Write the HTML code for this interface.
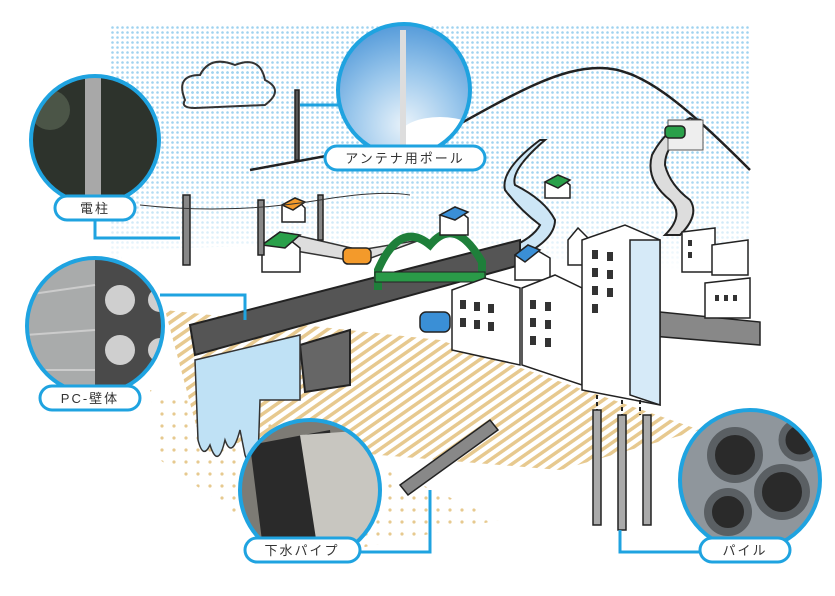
<!DOCTYPE html>
<html><head><meta charset="utf-8"><style>
html,body{margin:0;padding:0;background:#fff;width:835px;height:596px;overflow:hidden}
svg{display:block}
text{font-family:"Liberation Sans","Noto Sans CJK JP",sans-serif;font-size:13px;fill:#333;letter-spacing:2px}
</style></head><body>
<svg width="835" height="596" viewBox="0 0 835 596" xmlns="http://www.w3.org/2000/svg">
<defs>
<pattern id="dots" width="5" height="5" patternUnits="userSpaceOnUse"><circle cx="2.5" cy="2.5" r="1.3" fill="#9fd3f0"/></pattern>
<pattern id="stripe" width="8" height="8" patternUnits="userSpaceOnUse" patternTransform="rotate(-35)"><rect width="8" height="3.5" fill="#e7c98f"/></pattern>
<pattern id="dotsb" width="12" height="12" patternUnits="userSpaceOnUse"><circle cx="6" cy="6" r="1.6" fill="#e7c98f"/></pattern>
<radialGradient id="sky" cx="0.5" cy="0.7" r="0.7"><stop offset="0" stop-color="#e8f2fa"/><stop offset="0.5" stop-color="#9cc8ec"/><stop offset="1" stop-color="#4f97d8"/></radialGradient>
<linearGradient id="fade" x1="0" y1="0" x2="0" y2="1"><stop offset="0" stop-color="#fff" stop-opacity="0"/><stop offset="1" stop-color="#fff" stop-opacity="1"/></linearGradient>
<clipPath id="c1"><circle cx="95" cy="140" r="64"/></clipPath>
<clipPath id="c2"><circle cx="404" cy="90" r="66"/></clipPath>
<clipPath id="c3"><circle cx="95" cy="326" r="68"/></clipPath>
<clipPath id="c4"><circle cx="310" cy="490" r="70"/></clipPath>
<clipPath id="c5"><circle cx="750" cy="480" r="70"/></clipPath>
</defs>
<!-- sky -->
<rect x="110" y="25" width="640" height="245" fill="url(#dots)"/>
<rect x="110" y="170" width="640" height="100" fill="url(#fade)"/>
<!-- mountain -->
<path d="M250 170 L440 135 C520 90 560 68 600 68 C640 68 680 100 750 170" fill="none" stroke="#222" stroke-width="2.5"/>
<!-- cloud -->
<path d="M185 100 Q175 75 200 75 Q210 55 235 65 Q260 55 265 80 Q285 90 265 105 L195 108 Q180 108 185 100Z" fill="url(#dots)" stroke="#333" stroke-width="2"/>
<!-- white ground plane -->
<path d="M120 250 L450 240 L760 300 L760 440 L160 440Z" fill="#fff"/>
<!-- underground -->
<path d="M165 310 L440 340 L700 430 L560 470 L200 440Z" fill="url(#stripe)"/>
<path d="M150 390 L300 430 L500 520 L300 560 L160 460Z" fill="url(#dotsb)"/>
<!-- river -->
<path d="M540 140 Q500 170 505 190 Q520 210 540 225 Q530 245 470 262 L500 265 Q555 245 555 220 Q545 200 515 185 Q510 170 545 140Z" fill="#cde6f6" stroke="#222" stroke-width="2"/>
<!-- road to mountain -->
<path d="M695 120 Q705 118 700 125 Q665 140 665 165 Q670 185 690 200 Q700 215 680 235 L665 235 Q685 215 670 200 Q645 180 652 155 Q665 130 690 118Z" fill="#ddd" stroke="#222" stroke-width="2"/>
<rect x="668" y="120" width="35" height="30" fill="#eee" stroke="#555" stroke-width="1"/>
<rect x="665" y="126" width="20" height="12" rx="4" fill="#2aa04a" stroke="#222" stroke-width="1.5"/>
<path d="M295 235 L360 250 L420 240 L360 262 L290 250Z" fill="#ddd" stroke="#333" stroke-width="1.5"/>
<!-- wall -->
<path d="M190 325 L520 240 L520 265 L195 355Z" fill="#555" stroke="#222" stroke-width="2"/>
<path d="M300 345 L350 330 L350 385 L305 392Z" fill="#666" stroke="#222" stroke-width="2"/>
<!-- water -->
<path d="M195 360 L300 335 L300 400 L260 400 L258 460 Q250 470 245 455 L240 430 Q232 460 225 440 Q218 470 210 445 Q203 460 198 440Z" fill="#bfe1f5" stroke="#333" stroke-width="1.5"/>
<!-- bridge -->
<path d="M378 290 L378 270 Q400 220 430 245 Q455 215 482 262 L482 285" fill="none" stroke="#1e7f3a" stroke-width="8"/>
<rect x="375" y="272" width="110" height="10" fill="#2a9a48" stroke="#222" stroke-width="1"/>
<!-- houses -->
<g stroke="#222" stroke-width="1.5">
<path d="M262 245 L280 232 L300 248 L300 272 L262 272Z" fill="#fff"/><path d="M262 245 L280 232 L300 235 L285 248Z" fill="#2aa04a"/>
<path d="M440 215 L455 207 L468 218 L468 235 L440 235Z" fill="#fff"/><path d="M440 215 L455 207 L468 212 L455 220Z" fill="#3a8fd6"/>
<path d="M545 182 L558 175 L570 185 L570 198 L545 198Z" fill="#fff"/><path d="M545 182 L558 175 L570 180 L558 188Z" fill="#2aa04a"/>
<path d="M282 205 L295 198 L305 208 L305 222 L282 222Z" fill="#fff"/><path d="M282 205 L295 198 L305 202 L293 210Z" fill="#f39a2b"/>
<path d="M515 255 L528 245 L550 258 L550 280 L515 280Z" fill="#fff"/><path d="M515 255 L528 245 L540 250 L525 262Z" fill="#3a8fd6"/>
<path d="M568 240 L578 228 L590 240 L590 265 L568 265Z" fill="#fff"/>
<!-- cars -->
<rect x="343" y="248" width="28" height="16" rx="5" fill="#f39a2b"/>
<rect x="420" y="312" width="30" height="20" rx="6" fill="#3a8fd6"/>
<!-- buildings -->
<path d="M640 310 L760 322 L760 345 L640 335Z" fill="#888"/>
<path d="M682 232 L715 228 L715 272 L682 272Z" fill="#fff"/>
<path d="M712 245 L748 240 L748 275 L712 275Z" fill="#fff"/>
<path d="M705 283 L750 278 L750 318 L705 318Z" fill="#fff"/>
<path d="M452 290 L485 278 L520 288 L520 365 L452 350Z" fill="#fff"/>
<path d="M522 288 L555 275 L582 288 L582 385 L522 365Z" fill="#fff"/>
<path d="M582 240 L625 225 L660 240 L660 405 L582 390Z" fill="#fff"/>
<path d="M630 240 L660 240 L660 405 L630 395Z" fill="#d6eaf8"/>
<!-- piles -->
<rect x="593" y="410" width="8" height="115" fill="#aaa"/>
<rect x="618" y="415" width="8" height="115" fill="#aaa"/>
<rect x="643" y="415" width="8" height="110" fill="#aaa"/>
<!-- sewer pipe -->
<path d="M400 485 L490 420 L498 430 L408 495Z" fill="#888"/>
<!-- poles -->
<rect x="183" y="195" width="7" height="70" fill="#888"/>
<rect x="258" y="200" width="6" height="55" fill="#888"/>
<rect x="318" y="195" width="5" height="45" fill="#888"/>
<rect x="295" y="90" width="4" height="70" fill="#555"/>
</g>
<path d="M640 400 L640 415 M622 400 L622 415 M597 395 L597 410" stroke="#222" stroke-width="2" stroke-dasharray="4 3"/>
<path d="M140 205 Q230 215 320 200 Q380 190 410 195" fill="none" stroke="#333" stroke-width="1"/>
<g fill="#333">
<rect x="460" y="300" width="6" height="9"/><rect x="474" y="302" width="6" height="9"/><rect x="488" y="304" width="6" height="9"/>
<rect x="460" y="318" width="6" height="9"/><rect x="474" y="320" width="6" height="9"/><rect x="488" y="322" width="6" height="9"/>
<rect x="530" y="300" width="6" height="9"/><rect x="545" y="302" width="6" height="9"/><rect x="530" y="318" width="6" height="9"/><rect x="545" y="320" width="6" height="9"/><rect x="530" y="336" width="6" height="9"/><rect x="545" y="338" width="6" height="9"/>
<rect x="592" y="250" width="6" height="9"/><rect x="607" y="252" width="6" height="9"/><rect x="592" y="268" width="6" height="9"/><rect x="607" y="270" width="6" height="9"/><rect x="592" y="286" width="6" height="9"/><rect x="607" y="288" width="6" height="9"/><rect x="592" y="304" width="6" height="9"/>
<rect x="688" y="240" width="4" height="6"/><rect x="688" y="252" width="4" height="6"/><rect x="715" y="295" width="4" height="6"/><rect x="724" y="295" width="4" height="6"/><rect x="733" y="295" width="4" height="6"/>
</g>
<!-- connectors -->
<g fill="none" stroke="#1fa3e0" stroke-width="3">
<path d="M95 215 L95 238 L180 238"/>
<path d="M160 295 L245 295 L245 320"/>
<path d="M300 105 L340 105"/>
<path d="M360 552 L430 552 L430 490"/>
<path d="M620 530 L620 552 L700 552"/>
</g>
<!-- photo circles -->
<g clip-path="url(#c1)"><rect x="25" y="70" width="140" height="140" fill="#2d332c"/><rect x="85" y="70" width="16" height="140" fill="#a8a8a8"/><circle cx="50" cy="110" r="20" fill="#4b5547"/></g>
<circle cx="95" cy="140" r="64" fill="none" stroke="#1fa3e0" stroke-width="4"/>
<g clip-path="url(#c2)"><rect x="330" y="20" width="150" height="150" fill="url(#sky)"/><ellipse cx="440" cy="135" rx="40" ry="18" fill="#fff"/><rect x="400" y="30" width="6" height="120" fill="#ddd"/></g>
<circle cx="404" cy="90" r="66" fill="none" stroke="#1fa3e0" stroke-width="4"/>
<g clip-path="url(#c3)"><rect x="20" y="255" width="150" height="145" fill="#a9abab"/><rect x="95" y="255" width="70" height="145" fill="#4a4a4a"/>
<circle cx="120" cy="300" r="15" fill="#cfcfcf"/><circle cx="120" cy="350" r="15" fill="#cfcfcf"/><circle cx="160" cy="300" r="12" fill="#cfcfcf"/><circle cx="160" cy="350" r="12" fill="#cfcfcf"/>
<path d="M25 295 L95 285 M25 335 L95 330 M25 370 L95 370" stroke="#ccc" stroke-width="2"/></g>
<circle cx="95" cy="326" r="68" fill="none" stroke="#1fa3e0" stroke-width="4"/>
<g clip-path="url(#c4)"><rect x="235" y="415" width="150" height="150" fill="#7d7b75"/><path d="M250 445 L330 430 L345 565 L265 565Z" fill="#2a2a2a"/><path d="M300 435 L370 430 Q390 490 370 565 L320 565Z" fill="#c8c6c0"/></g>
<circle cx="310" cy="490" r="70" fill="none" stroke="#1fa3e0" stroke-width="4"/>
<g clip-path="url(#c5)"><rect x="675" y="405" width="150" height="150" fill="#8f969c"/>
<circle cx="735" cy="455" r="24" fill="#2a2a2a" stroke="#5a5f63" stroke-width="8"/><circle cx="782" cy="492" r="24" fill="#2a2a2a" stroke="#5a5f63" stroke-width="8"/><circle cx="728" cy="512" r="20" fill="#2a2a2a" stroke="#5a5f63" stroke-width="8"/><circle cx="800" cy="440" r="18" fill="#2a2a2a" stroke="#5a5f63" stroke-width="7"/></g>
<circle cx="750" cy="480" r="70" fill="none" stroke="#1fa3e0" stroke-width="4"/>
<!-- labels -->
<g fill="#fff" stroke="#1fa3e0" stroke-width="3">
<rect x="55" y="196" width="80" height="24" rx="12"/>
<rect x="325" y="146" width="160" height="24" rx="12"/>
<rect x="40" y="386" width="100" height="24" rx="12"/>
<rect x="245" y="538" width="115" height="24" rx="12"/>
<rect x="700" y="538" width="90" height="24" rx="12"/>
</g>
<text x="95" y="213" text-anchor="middle">電柱</text>
<text x="405" y="163" text-anchor="middle">アンテナ用ポール</text>
<text x="90" y="403" text-anchor="middle">PC-壁体</text>
<text x="302" y="555" text-anchor="middle">下水パイプ</text>
<text x="745" y="555" text-anchor="middle">パイル</text>
</svg>
</body></html>
